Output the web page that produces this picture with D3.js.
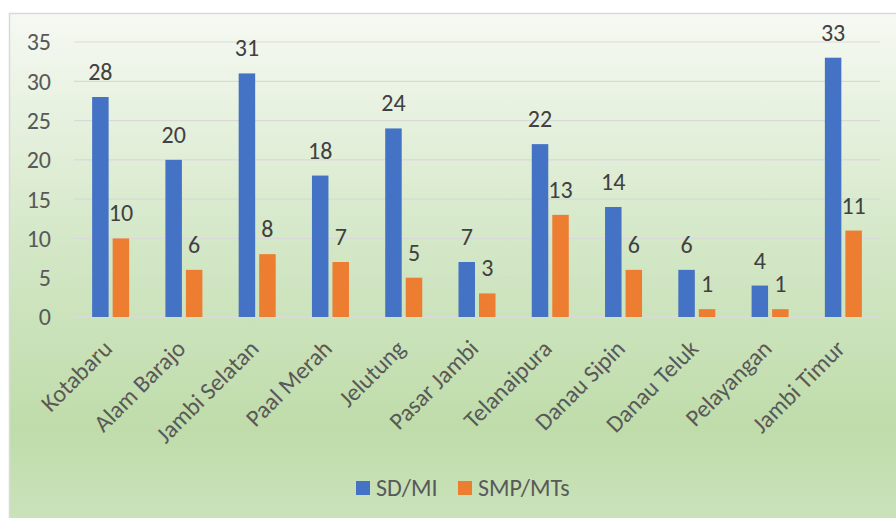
<!DOCTYPE html>
<html>
<head>
<meta charset="utf-8">
<script src="https://cdn.jsdelivr.net/npm/d3@7"></script>
<style>
  body { margin: 0; background: #fff; }
  text { font-family: Calibri, Carlito, Lato, sans-serif; fill: #595959; }
</style>
</head>
<body>
<svg width="896" height="518"></svg>
<script>
const kecamatan = ["Kotabaru", "Alam Barajo", "Jambi Selatan", "Paal Merah", "Jelutung",
  "Pasar Jambi", "Telanaipura", "Danau Sipin", "Danau Teluk", "Pelayangan", "Jambi Timur"];
const sdMi = [28, 20, 31, 18, 24, 7, 22, 14, 6, 4, 33];
const smpMts = [10, 6, 8, 7, 5, 3, 13, 6, 1, 1, 11];
const seriesNames = ["SD/MI", "SMP/MTs"];
const colors = ["#4472C4", "#ED7D31"];
const yTicks = [0, 5, 10, 15, 20, 25, 30, 35];

const svg = d3.select("svg");
const fs = 24;

// background gradient
const defs = svg.append("defs");
const grad = defs.append("linearGradient").attr("id", "bg")
  .attr("x1", 0).attr("y1", 0).attr("x2", 0).attr("y2", 1);
grad.append("stop").attr("offset", "0%").attr("stop-color", "#f6f9f3");
grad.append("stop").attr("offset", "45%").attr("stop-color", "#d3e7c6");
grad.append("stop").attr("offset", "80%").attr("stop-color", "#bfdcaa");
grad.append("stop").attr("offset", "100%").attr("stop-color", "#cce3bd");

svg.append("rect")
  .attr("x", 9.5).attr("y", 13.5).attr("width", 900).attr("height", 520)
  .attr("fill", "url(#bg)").attr("stroke", "#d9d9d9").attr("stroke-width", 1.5);

const x = d3.scaleBand().domain(kecamatan).range([74, 880]);
const y = d3.scaleLinear().domain([0, 35]).range([317, 42]);

const barW = x.bandwidth() * 0.225;
const gap = x.bandwidth() * 0.055;
const groupW = barW * 2 + gap;

// gridlines
svg.append("g").selectAll("line").data(yTicks).join("line")
  .attr("x1", 74).attr("x2", 880)
  .attr("y1", d => y(d)).attr("y2", d => y(d))
  .attr("stroke", "#d9d9d9").attr("stroke-width", d => d === 0 ? 2 : 1.2);

// y axis labels
svg.append("g").selectAll("text").data(yTicks).join("text")
  .attr("x", 51).attr("y", d => y(d)).attr("dy", "0.35em")
  .attr("text-anchor", "end").attr("font-size", fs)
  .text(d => d);

const series = [sdMi, smpMts];
series.forEach((vals, si) => {
  const g = svg.append("g");
  const bx = (d, i) => x(kecamatan[i]) + (x.bandwidth() - groupW) / 2 + si * (barW + gap);
  g.selectAll("rect").data(vals).join("rect")
    .attr("x", bx)
    .attr("y", d => y(d))
    .attr("width", barW)
    .attr("height", d => y(0) - y(d))
    .attr("fill", colors[si]);
  g.selectAll("text").data(vals).join("text")
    .attr("x", (d, i) => bx(d, i) + barW / 2)
    .attr("y", d => y(d) - 17)
    .attr("text-anchor", "middle").attr("font-size", fs)
    .style("fill", "#404040")
    .text(d => d);
});

// category labels
svg.append("g").selectAll("text").data(kecamatan).join("text")
  .attr("transform", d => `translate(${x(d) + x.bandwidth() / 2 + 3},${350}) rotate(-45)`)
  .attr("text-anchor", "end").attr("font-size", fs)
  .text(d => d);

// legend
const legX = [356, 458];
const legend = svg.append("g").selectAll("g").data(seriesNames).join("g")
  .attr("transform", (d, i) => `translate(${legX[i]},481)`);
legend.append("rect").attr("width", 14).attr("height", 14).attr("fill", (d, i) => colors[i]);
legend.append("text").attr("x", 20).attr("y", 7).attr("dy", "0.35em")
  .attr("font-size", fs).text(d => d);
</script>
</body>
</html>
